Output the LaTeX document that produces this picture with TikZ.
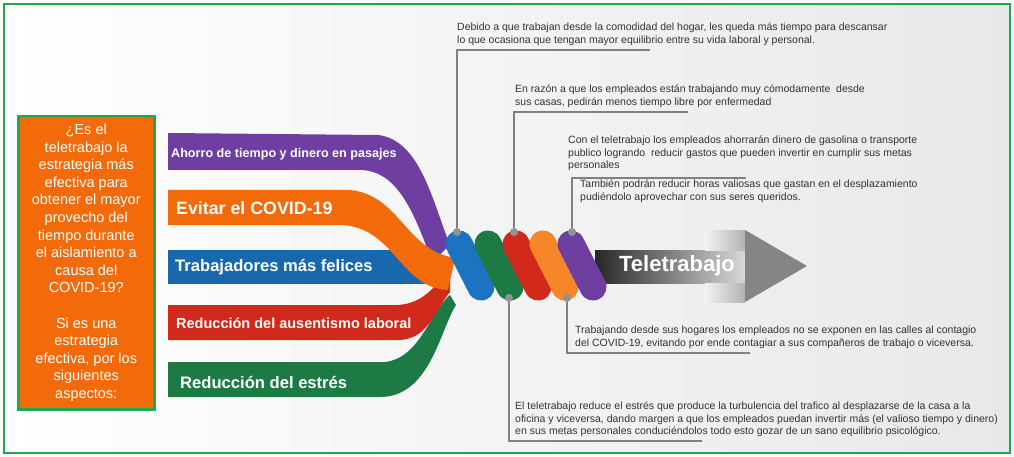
\documentclass[tikz,border=0pt]{standalone}
\usepackage{fontspec}
\setmainfont{Liberation Sans}
\begin{document}
\begin{tikzpicture}[x=1pt,y=-1pt,
  note/.style={anchor=north west,align=left,inner sep=0pt,text=black!80,font=\fontsize{10.5}{12.3}\selectfont},
  band/.style={anchor=west,text=white,font=\bfseries,inner sep=0pt},
  lead/.style={draw=gray,line width=1.6pt},
  dot/.style={circle,fill=gray!85,inner sep=0pt,minimum size=8pt},
  caps/.style={line width=27pt,line cap=round}]
\definecolor{cpur}{HTML}{6E3FA0}
\definecolor{cora}{HTML}{F26A0A}
\definecolor{corb}{HTML}{F5862A}
\definecolor{cblu}{HTML}{1C74C0}
\definecolor{cred}{HTML}{D12A1C}
\definecolor{cgre}{HTML}{1E7A45}
\definecolor{bordg}{HTML}{1DAA4E}
\useasboundingbox (0,0) rectangle (1014,457);
\fill[white] (0,0) rectangle (1014,457);
\shade[left color=white,right color=black!9] (5,5) rectangle (1009,452);
\draw[bordg,line width=2.5pt] (4,4) rectangle (1010,453);
% left box
\node[draw=bordg,line width=2.5pt,fill=cora,minimum width=136pt,minimum height=293pt,anchor=north west,text=white,align=center,inner sep=0pt,font=\fontsize{14.5}{17.6}\selectfont] (q) at (17,115)
{¿Es el\\teletrabajo la\\estrategia más\\efectiva para\\obtener el mayor\\provecho del\\tiempo durante\\el aislamiento a\\causa del\\COVID-19?\\[17.6pt]Si es una\\estrategia\\efectiva, por los\\siguientes\\aspectos:};
% bands
\fill[cpur] (168,133) -- (378,135) .. controls (420,140) and (432,200) .. (450,245) -- (432,262) .. controls (412,205) and (395,172) .. (362,170) -- (168,170) -- cycle;
\fill[cgre] (168,362) -- (385,362) .. controls (420,358) and (430,312) .. (450,295) -- (456,305) .. controls (440,330) and (430,397) .. (380,397) -- (168,397) -- cycle;
\fill[cred] (168,305) -- (398,305) .. controls (425,303) and (435,285) .. (450,270) -- (450,292) .. controls (435,310) and (428,340) .. (398,340) -- (168,340) -- cycle;
\fill[cblu!90!black] (168,250) rectangle (440,284);
\fill[cora] (168,190) -- (350,190) .. controls (400,195) and (405,250) .. (455,258) -- (448,290) .. controls (400,288) and (395,228) .. (342,225) -- (168,225) -- cycle;
\node[band,font=\bfseries\fontsize{12.6}{14}\selectfont] (b1) at (171,154) {Ahorro de tiempo y dinero en pasajes};
\node[band,font=\bfseries\fontsize{17.8}{19}\selectfont] (b2) at (176,208) {Evitar el COVID-19};
\node[band,font=\bfseries\fontsize{16.6}{18}\selectfont] (b3) at (175,267) {Trabajadores más felices};
\node[band,font=\bfseries\fontsize{14.5}{16}\selectfont] (b4) at (176,323) {Reducción del ausentismo laboral};
\node[band,font=\bfseries\fontsize{16.6}{18}\selectfont] (b5) at (180,382) {Reducción del estrés};
% arrow
\shade[left color=black!85,right color=black!15] (595,250) rectangle (745,283);
\shade[left color=black!5,right color=black!30] (705,230) rectangle (745,250);
\shade[left color=black!5,right color=black!30] (705,283) rectangle (745,302);
\fill[black!48] (745,230) -- (807,266) -- (745,302) -- cycle;
\node[text=white,font=\bfseries\fontsize{22}{24}\selectfont] (tt) at (677,266) {Teletrabajo};
% capsules
\draw[caps,cblu] (459,244) -- (481,287);
\draw[caps,cgre] (488,244) -- (510,287);
\draw[caps,cred] (516,244) -- (538,287);
\draw[caps,corb] (543,244) -- (565,287);
\draw[caps,cpur] (571,244) -- (593,287);
% notes
\node[note] (n1) at (457,23) {Debido a que trabajan desde la comodidad del hogar, les queda más tiempo para descansar\\lo que ocasiona que tengan mayor equilibrio entre su vida laboral y personal.};
\node[note] (n2) at (515,85) {En razón a que los empleados están trabajando muy cómodamente \ desde\\sus casas, pedirán menos tiempo libre por enfermedad};
\node[note] (n3) at (568,136) {Con el teletrabajo los empleados ahorrarán dinero de gasolina o transporte\\publico logrando \ reducir gastos que pueden invertir en cumplir sus metas\\personales};
\node[note] (n4) at (580,180) {También podrán reducir horas valiosas que gastan en el desplazamiento\\pudiéndolo aprovechar con sus seres queridos.};
\node[note] (n5) at (575,326) {Trabajando desde sus hogares los empleados no se exponen en las calles al contagio\\del COVID-19, evitando por ende contagiar a sus compañeros de trabajo o viceversa.};
\node[note] (n6) at (515,402) {El teletrabajo reduce el estrés que produce la turbulencia del trafico al desplazarse de la casa a la\\oficina y viceversa, dando margen a que los empleados puedan invertir más (el valioso tiempo y dinero)\\en sus metas personales conduciéndolos todo esto gozar de un sano equilibrio psicológico.};
% leads
\coordinate (c1) at (650,50); \coordinate (c2) at (688,112); \coordinate (c3) at (746,178);
\coordinate (c5) at (750,353); \coordinate (c6) at (702,441);
\node[dot] (d1) at (457,232) {}; \node[dot] (d2) at (514,232) {}; \node[dot] (d3) at (572,232) {};
\node[dot] (d5) at (567,298) {}; \node[dot] (d6) at (509,298) {};
\draw[lead] (d1.north) |- (c1);
\draw[lead] (d2.north) |- (c2);
\draw[lead] (d3.north) |- (c3);
\draw[lead] (d5.south) |- (c5);
\draw[lead] (d6.south) |- (c6);
\end{tikzpicture}
\end{document}
